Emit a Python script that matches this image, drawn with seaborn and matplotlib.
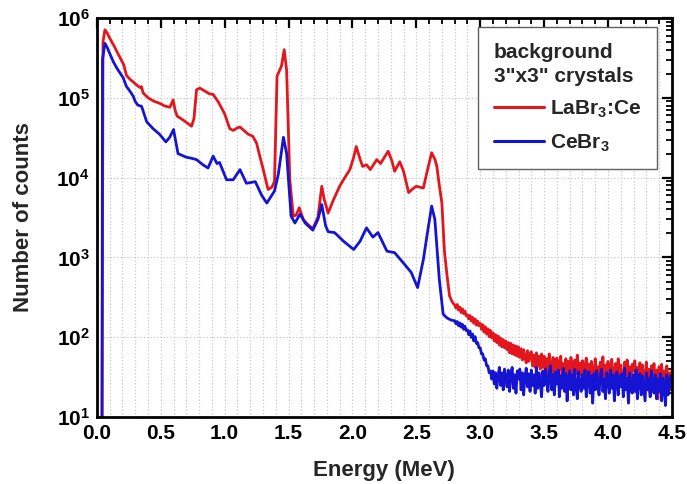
import numpy as np
import pandas as pd
import matplotlib
matplotlib.use("Agg")
import matplotlib.pyplot as plt
from matplotlib.lines import Line2D
from matplotlib.ticker import MultipleLocator, LogLocator, NullFormatter, FixedLocator, FixedFormatter
import seaborn as sns

# ---------------------------------------------------------------------------
# Background spectra of two 3"x3" scintillators (energy in MeV, counts/channel)
# ---------------------------------------------------------------------------
labr_energy = [
    0.040, 0.048, 0.063, 0.080, 0.100, 0.130, 0.160, 0.190, 0.210, 0.232,
    0.260, 0.284, 0.310, 0.335, 0.349, 0.362, 0.400, 0.450, 0.493, 0.530,
    0.571, 0.585, 0.597, 0.612, 0.628, 0.680, 0.741, 0.760, 0.780, 0.806,
    0.850, 0.880, 0.910, 0.950, 1.000, 1.040, 1.067, 1.100, 1.120, 1.150,
    1.184, 1.220, 1.250, 1.270, 1.300, 1.340, 1.370, 1.390, 1.410, 1.445,
    1.466, 1.485, 1.510, 1.537, 1.560, 1.584, 1.615, 1.650, 1.690, 1.730,
    1.760, 1.780, 1.810, 1.850, 1.900, 1.940, 1.980, 2.010, 2.030, 2.060,
    2.080, 2.110, 2.140, 2.170, 2.190, 2.220, 2.250, 2.280, 2.310, 2.330,
    2.370, 2.400, 2.440, 2.470, 2.500, 2.555, 2.590, 2.620, 2.645, 2.660,
    2.680, 2.700, 2.720, 2.740, 2.760, 2.780, 2.790,
]
labr_counts = [
    5, 5.0e5, 7.1e5, 6.5e5, 5.6e5, 4.6e5, 3.7e5, 3.0e5, 2.6e5, 1.9e5,
    1.7e5, 1.58e5, 1.45e5, 1.35e5, 1.38e5, 1.15e5, 1.0e5, 9.0e4, 8.5e4, 7.9e4,
    7.6e4, 8.5e4, 9.4e4, 7.0e4, 5.9e4, 5.2e4, 4.4e4, 5.5e4, 1.26e5, 1.32e5,
    1.2e5, 1.12e5, 1.1e5, 8.9e4, 6.3e4, 4.1e4, 3.9e4, 4.2e4, 4.3e4, 3.9e4,
    3.5e4, 3.3e4, 2.7e4, 2.0e4, 1.3e4, 7.1e3, 7.6e3, 9.0e3, 1.86e5, 2.5e5,
    4.0e5, 2.2e5, 9.4e3, 3.3e3, 3.4e3, 4.2e3, 3.0e3, 2.6e3, 2.3e3, 3.2e3,
    7.8e3, 5.3e3, 3.6e3, 5.2e3, 7.8e3, 1.0e4, 1.26e4, 1.8e4, 2.45e4, 1.7e4,
    1.38e4, 1.45e4, 1.26e4, 1.5e4, 1.68e4, 1.5e4, 1.8e4, 2.14e4, 1.6e4, 1.2e4,
    1.58e4, 1.2e4, 6.5e3, 7.2e3, 7.8e3, 7.4e3, 1.3e4, 2.05e4, 1.7e4, 1.4e4,
    8.0e3, 4.8e3, 1.2e3, 6.0e2, 3.3e2, 2.8e2, 2.65e2,
]

cebr_energy = [
    0.040, 0.044, 0.063, 0.080, 0.100, 0.130, 0.160, 0.190, 0.206, 0.230,
    0.260, 0.284, 0.300, 0.320, 0.350, 0.390, 0.440, 0.490, 0.540, 0.570,
    0.600, 0.635, 0.700, 0.740, 0.780, 0.830, 0.870, 0.910, 0.940, 0.960,
    1.015, 1.067, 1.120, 1.170, 1.240, 1.290, 1.330, 1.390, 1.420, 1.460,
    1.485, 1.520, 1.550, 1.590, 1.630, 1.690, 1.730, 1.760, 1.790, 1.810,
    1.860, 1.930, 2.010, 2.060, 2.110, 2.160, 2.200, 2.270, 2.330, 2.400,
    2.460, 2.510, 2.555, 2.590, 2.620, 2.645, 2.680, 2.710, 2.740, 2.770,
    2.790,
]
cebr_counts = [
    3, 3.0e5, 4.8e5, 4.3e5, 3.6e5, 2.8e5, 2.3e5, 1.95e5, 1.78e5, 1.4e5,
    1.2e5, 1.05e5, 9.0e4, 8.1e4, 7.8e4, 5.0e4, 4.1e4, 3.5e4, 2.8e4, 3.2e4,
    4.0e4, 2.0e4, 1.8e4, 1.75e4, 1.68e4, 1.45e4, 1.32e4, 1.86e4, 1.5e4, 1.55e4,
    9.4e3, 9.4e3, 1.26e4, 8.5e3, 8.9e3, 6.0e3, 4.8e3, 6.8e3, 1.1e4, 3.2e4,
    2.0e4, 3.3e3, 2.7e3, 3.5e3, 2.7e3, 2.2e3, 3.0e3, 4.6e3, 2.5e3, 2.1e3,
    2.05e3, 1.6e3, 1.26e3, 1.6e3, 2.35e3, 1.8e3, 2.05e3, 1.2e3, 1.15e3, 8.5e2,
    6.5e2, 4.2e2, 9.4e2, 2.2e3, 4.4e3, 3.0e3, 5.3e2, 1.95e2, 1.75e2, 1.65e2,
    1.62e2,
]

# high-energy region, 10 keV channels from 2.80 to 4.50 MeV
tail_energy = np.round(np.arange(2.80, 4.5001, 0.01), 2)
labr_tail = [
    255, 232, 258, 220, 240, 205, 228, 198, 214, 186,
    192, 170, 188, 160, 178, 150, 170, 142, 160, 140,
    150, 126, 144, 116, 136, 110, 128, 102, 122, 98,
    114, 90, 108, 86, 104, 80, 98, 76, 94, 74,
    90, 70, 86, 64, 84, 62, 80, 60, 78, 58,
    76, 56, 72, 52, 70, 56, 48, 68, 50, 62,
    66, 44, 60, 42, 64, 44, 58, 40, 62, 42,
    58, 38, 54, 36, 62, 41, 35, 56, 34, 52,
    55, 33, 48, 58, 32, 47, 30, 54, 36, 50,
    31, 56, 42, 29, 52, 35, 60, 30, 48, 34,
    51, 28, 44, 55, 31, 46, 26, 50, 36, 30,
    54, 29, 43, 25, 49, 33, 57, 28, 45, 32,
    50, 27, 41, 53, 24, 38, 47, 29, 54, 26,
    45, 31, 23, 49, 34, 52, 27, 43, 21, 46,
    38, 51, 25, 42, 29, 48, 22, 45, 33, 24,
    49, 27, 40, 20, 44, 30, 47, 23, 39, 17,
    43, 28, 46, 21, 38, 19, 44, 25, 36, 22,
    40,
]
cebr_tail = [
    162, 148, 158, 140, 152, 134, 146, 126, 138, 122,
    124, 108, 120, 100, 110, 90, 102, 84, 86, 74,
    74, 62, 62, 52, 54, 44, 44, 36, 38, 30,
    38, 26, 36, 23, 33, 42, 25, 36, 22, 40,
    32, 24, 39, 21, 35, 42, 23, 34, 20, 38,
    30, 40, 22, 36, 19, 32, 41, 24, 35, 21,
    39, 25, 34, 20, 42, 23, 36, 27, 18, 38,
    25, 40, 31, 21, 35, 44, 22, 34, 19, 37,
    26, 39, 18, 33, 23, 41, 21, 35, 16, 31,
    38, 22, 34, 19, 40, 24, 17, 37, 26, 21,
    34, 23, 39, 18, 31, 37, 20, 33, 15, 35,
    22, 38, 25, 19, 34, 40, 21, 30, 17, 36,
    31, 20, 39, 23, 34, 16, 30, 37, 19, 33,
    24, 35, 18, 41, 22, 31, 15, 36, 25, 20,
    34, 21, 39, 17, 30, 35, 19, 33, 23, 16,
    36, 22, 31, 18, 38, 25, 20, 34, 17, 30,
    21, 35, 16, 31, 23, 14, 34, 19, 28, 33,
    22,
]

crystals = ["LaBr3:Ce", "CeBr3"]
legend_labels = ["LaBr$_3$:Ce", "CeBr$_3$"]
legend_title = 'background\n3"x3" crystals'
x_ticks = [0.0, 0.5, 1.0, 1.5, 2.0, 2.5, 3.0, 3.5, 4.0, 4.5]
y_ticks = [1e1, 1e2, 1e3, 1e4, 1e5, 1e6]

RED = "#e3161d"
BLUE = "#1414d2"

df = pd.concat([
    pd.DataFrame({"energy": np.concatenate([labr_energy, tail_energy]),
                  "counts": np.concatenate([labr_counts, labr_tail]),
                  "crystal": crystals[0]}),
    pd.DataFrame({"energy": np.concatenate([cebr_energy, tail_energy]),
                  "counts": np.concatenate([cebr_counts, cebr_tail]),
                  "crystal": crystals[1]}),
], ignore_index=True)

sns.set_theme(style="white")
plt.rcParams["font.family"] = ["Liberation Sans", "DejaVu Sans"]
plt.rcParams["font.weight"] = "bold"
plt.rcParams["mathtext.default"] = "regular"

fig = plt.figure(figsize=(6.87, 4.84), dpi=100)
ax = fig.add_axes([0.141, 0.138, 0.837, 0.825])

sns.lineplot(data=df, x="energy", y="counts", hue="crystal", hue_order=crystals,
             palette=[RED, BLUE], estimator=None, sort=False, linewidth=2.0,
             legend=False, ax=ax)

ax.set_yscale("log")
ax.set_xlim(0, 4.5)
ax.set_ylim(10, 1e6)

ax.xaxis.set_major_locator(FixedLocator(x_ticks))
ax.xaxis.set_major_formatter(FixedFormatter([f"{v:.1f}" for v in x_ticks]))
ax.xaxis.set_minor_locator(MultipleLocator(0.1))
ax.yaxis.set_major_locator(FixedLocator(y_ticks))
ax.yaxis.set_minor_locator(LogLocator(base=10, subs=np.arange(2, 10), numticks=20))
ax.yaxis.set_minor_formatter(NullFormatter())

ax.tick_params(which="both", direction="in", top=True, right=True,
               colors="black", labelsize=15)
ax.tick_params(which="major", length=7, width=1.6, pad=5)
ax.tick_params(which="minor", length=4, width=1.3)
for lbl in ax.get_xticklabels() + ax.get_yticklabels():
    lbl.set_fontweight("bold")

for s in ax.spines.values():
    s.set_linewidth(2.0)
    s.set_color("black")

ax.grid(True, which="major", axis="y", color="#c8c8c8", linestyle=":", linewidth=0.9)
ax.grid(True, which="both", axis="x", color="#c8c8c8", linestyle=":", linewidth=0.9)
ax.set_axisbelow(True)

ax.set_xlabel("Energy (MeV)", fontsize=16, fontweight="bold", labelpad=12)
ax.set_ylabel("Number of counts", fontsize=16, fontweight="bold", labelpad=16)

handles = [Line2D([], [], color=RED, lw=2.2), Line2D([], [], color=BLUE, lw=2.2)]
leg = ax.legend(handles, legend_labels, title=legend_title,
                loc="upper right", bbox_to_anchor=(0.974, 0.977), borderaxespad=0,
                frameon=True, fancybox=False, framealpha=1, edgecolor="#606060",
                prop={"family": "Liberation Sans", "weight": "bold", "size": 15},
                title_fontproperties={"family": "Liberation Sans", "weight": "bold", "size": 15},
                alignment="left", handlelength=2.4, handletextpad=0.3,
                labelspacing=0.6, borderpad=0.75)
leg.get_title().set_multialignment("left")
leg.get_title().set_linespacing(1.35)
leg.get_frame().set_linewidth(1.0)

fig.savefig("out.png", dpi=100)
